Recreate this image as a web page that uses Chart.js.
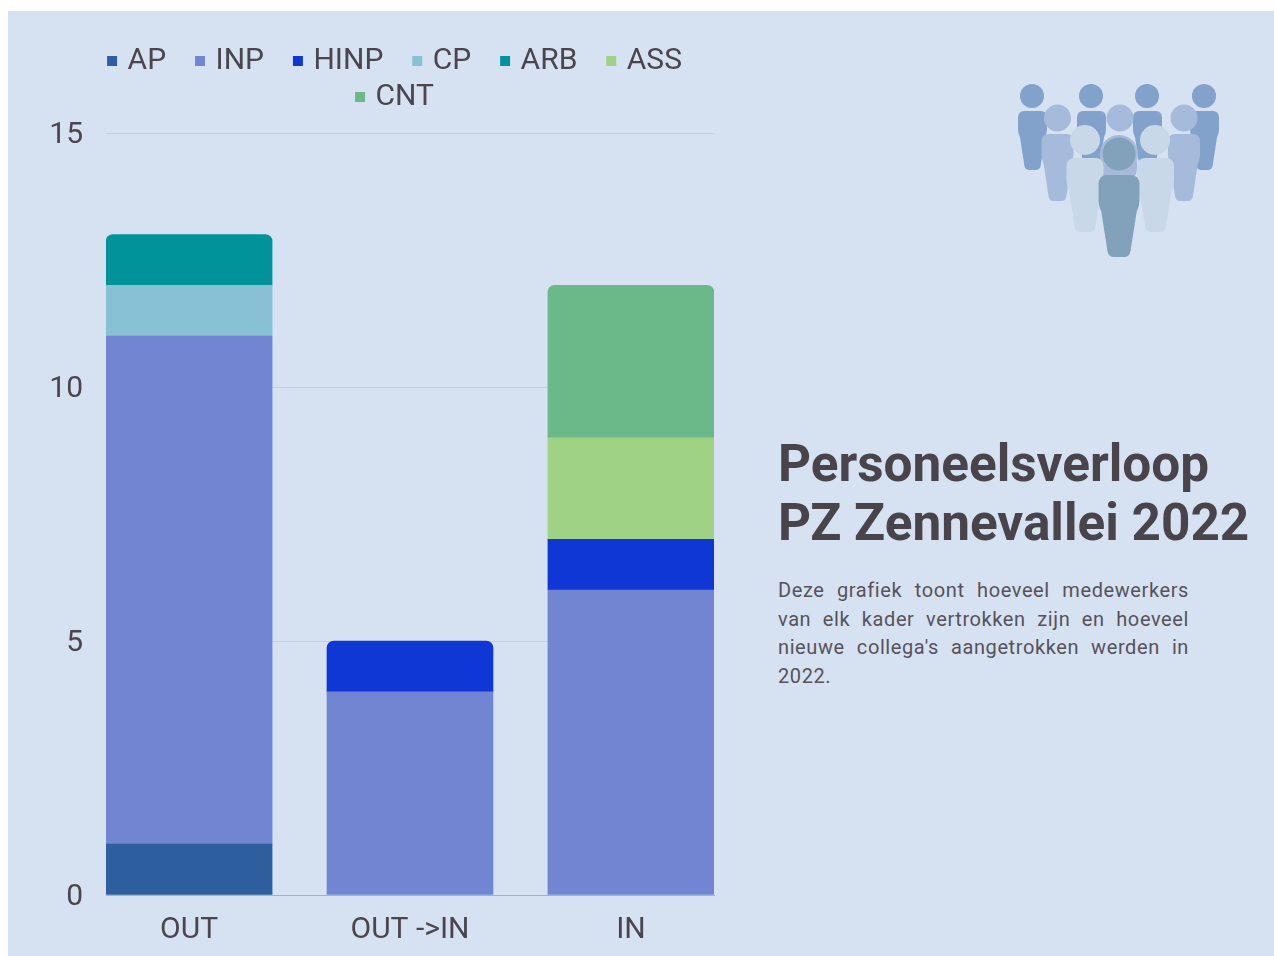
<!DOCTYPE html>
<html>
<head>
<meta charset="utf-8">
<script src="https://cdn.jsdelivr.net/npm/chart.js@4/dist/chart.umd.min.js"></script>
<style>
  html, body { margin: 0; padding: 0; background: #fff; }
  body { width: 1274px; height: 956px; position: relative; overflow: hidden; font-family: Roboto, sans-serif; }
  #panel { position: absolute; left: 8px; top: 11px; width: 1266px; height: 945px; background: #d6e2f1; }
  #myChart { position: absolute; left: 49px; top: 0; }
  #icon { position: absolute; left: 1000px; top: 70px; }
  h1 { position: absolute; left: 778px; top: 434px; margin: 0; font-size: 51.3px; line-height: 59px; font-weight: 700; color: #49444c; white-space: nowrap; }
  p { position: absolute; left: 778px; top: 576px; width: 411px; margin: 0; font-size: 20px; letter-spacing: .6px; line-height: 28.5px; color: #57525b; text-align: justify; }
</style>
</head>
<body>
<div id="panel"></div>
<canvas id="myChart" width="723" height="956"></canvas>

<svg id="icon" width="240" height="200" viewBox="1000 70 240 200">
  <defs>
    <path id="body" d="M22 0H78Q100 0 100 24V62Q100 76 93 90L78 186Q76 200 63 200H37Q24 200 22 186L7 90Q0 76 0 62V24Q0 0 22 0Z"/>
  </defs>
  <g fill="#82a1cb">
    <circle cx="1032" cy="96" r="12"/><use href="#body" transform="translate(1018 111) scale(.29 .295)"/>
    <circle cx="1091" cy="96" r="12"/><use href="#body" transform="translate(1077 111) scale(.29 .295)"/>
    <circle cx="1147" cy="96" r="12"/><use href="#body" transform="translate(1133 111) scale(.29 .295)"/>
    <circle cx="1204" cy="96" r="12"/><use href="#body" transform="translate(1190 111) scale(.29 .295)"/>
  </g>
  <g fill="#a6bbdb">
    <circle cx="1057.5" cy="118" r="13.5"/><use href="#body" transform="translate(1041.5 134) scale(.32 .335)"/>
    <circle cx="1120" cy="118" r="13.5"/><circle cx="1119" cy="154" r="19"/><use href="#body" transform="translate(1101 150) scale(.36 .3)"/>
    <circle cx="1184" cy="118" r="13.5"/><use href="#body" transform="translate(1168 134) scale(.32 .335)"/>
  </g>
  <g fill="#c9d8e9">
    <circle cx="1085" cy="140" r="15"/><use href="#body" transform="translate(1066.5 158) scale(.37 .37)"/>
    <circle cx="1155" cy="140" r="15"/><use href="#body" transform="translate(1137 158) scale(.37 .37)"/>
  </g>
  <g fill="#82a1bb">
    <circle cx="1119" cy="154" r="16.5"/><use href="#body" transform="translate(1098.5 175) scale(.41 .41)"/>
  </g>
</svg>

<h1>Personeelsverloop<br>PZ Zennevallei 2022</h1>
<p>Deze grafiek toont hoeveel medewerkers van elk kader vertrokken zijn en hoeveel nieuwe collega's aangetrokken werden in 2022.</p>

<script>
const categories = ["OUT", "OUT ->IN", "IN"];
const seriesNames = ["AP", "INP", "HINP", "CP", "ARB", "ASS", "CNT"];
const seriesColors = ["#2d5e9e", "#7285d3", "#0f37d6", "#88c1d5", "#01939a", "#a0d286", "#6bb888"];

const AP = [1, 0, 0];
const INP = [10, 4, 6];
const HINP = [0, 1, 1];
const CP = [1, 0, 0];
const ARB = [1, 0, 0];
const ASS = [0, 0, 2];
const CNT = [0, 0, 3];
const seriesValues = [AP, INP, HINP, CP, ARB, ASS, CNT];

const yTicks = [0, 5, 10, 15];

const textColor = "#4a454e";

// only the highest piece of a stack gets round corners
function topRadius(context) {
  const above = seriesValues.slice(context.datasetIndex + 1).some(function (values) {
    return values[context.dataIndex] > 0;
  });
  return above ? 0 : { topLeft: 7, topRight: 7, bottomLeft: 0, bottomRight: 0 };
}

const chartTweaks = {
  id: "chartTweaks",
  beforeInit: function (chart) {
    const fit = chart.legend.fit;
    chart.legend.fit = function () {
      // narrower than the canvas so CNT wraps to a second row
      this.maxWidth = 680;
      fit.call(this);
      // extra gap between the legend and the plot
      this.height += 11;
    };
  },
  afterLayout: function (chart) {
    // y labels sit a little lower than the grid lines
    const axis = chart.scales.y;
    const drawLabels = axis.drawLabels;
    axis.drawLabels = function (area) {
      chart.ctx.save();
      chart.ctx.translate(0, 2);
      drawLabels.call(axis, area);
      chart.ctx.restore();
    };
  },
};

const ctx = document.getElementById("myChart").getContext("2d");

const datasets = seriesNames.map(function (name, s) {
  return {
    label: name,
    // null instead of 0, a zero height bar still leaves a faint line
    data: seriesValues[s].map(function (v, i) {
      return { x: i, y: v > 0 ? v : null };
    }),
    backgroundColor: seriesColors[s],
    borderWidth: 0,
    borderRadius: topRadius,
    barThickness: 166,
    pointStyle: "rect",
  };
});

new Chart(ctx, {
  type: "bar",
  data: { datasets: datasets },
  plugins: [chartTweaks],
  options: {
    responsive: false,
    animation: false,
    devicePixelRatio: 1,
    font: { family: "Roboto" },
    layout: { padding: { top: 40 } },
    scales: {
      x: {
        type: "linear",
        stacked: true,
        offset: false,
        // bars sit flush with the plot edges
        min: -0.376,
        max: 2.376,
        afterBuildTicks: function (axis) {
          axis.ticks = categories.map(function (c, i) {
            return { value: i };
          });
        },
        afterFit: function (axis) {
          axis.height = 61;
        },
        grid: { display: false },
        border: { color: "#a9aec4", width: 1 },
        ticks: {
          autoSkip: false,
          maxRotation: 0,
          padding: 9,
          color: textColor,
          font: { family: "Roboto", size: 30 },
          callback: function (value) {
            return categories[value];
          },
        },
      },
      y: {
        stacked: true,
        min: 0,
        max: 15,
        afterBuildTicks: function (axis) {
          axis.ticks = yTicks.map(function (v) {
            return { value: v };
          });
        },
        afterFit: function (axis) {
          axis.width = 57;
        },
        grid: { color: "#c4d0e2", drawTicks: false },
        border: { display: false },
        ticks: {
          padding: 23,
          color: textColor,
          font: { family: "Roboto", size: 30 },
        },
      },
      // empty axis, only keeps the plot off the right side of the canvas
      spacer: {
        position: "right",
        grid: { display: false },
        border: { display: false },
        ticks: { display: false },
        afterFit: function (axis) {
          axis.width = 58;
        },
      },
    },
    plugins: {
      tooltip: { enabled: false },
      legend: {
        position: "top",
        labels: {
          usePointStyle: true,
          boxWidth: 1,
          boxHeight: 10,
          padding: 6,
          color: textColor,
          font: { family: "Roboto", size: 30 },
          generateLabels: function (chart) {
            return chart.data.datasets.map(function (d, i) {
              return {
                // trailing spaces make the wide column gap, padding sets the row gap
                text: d.label + "   \u2006",
                fillStyle: d.backgroundColor,
                strokeStyle: d.backgroundColor,
                lineWidth: 0,
                pointStyle: "rect",
                fontColor: textColor,
                datasetIndex: i,
              };
            });
          },
        },
      },
    },
  },
});
</script>
</body>
</html>
